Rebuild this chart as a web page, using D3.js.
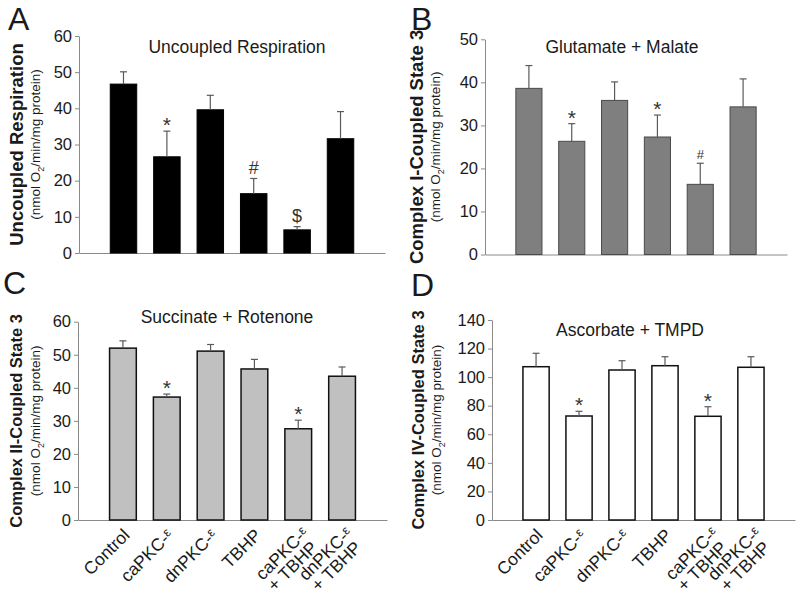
<!DOCTYPE html>
<html>
<head>
<meta charset="utf-8">
<script src="https://cdn.jsdelivr.net/npm/d3@7"></script>
<style>
  body { margin: 0; background: #fff; }
  svg { display: block; font-family: "Liberation Sans", Arial, sans-serif; }
</style>
</head>
<body>
<svg id="chart"></svg>
<script>
// groups, shared by all four panels
const categories = ['Control', 'caPKC-ε', 'dnPKC-ε', 'TBHP', 'caPKC-ε + TBHP', 'dnPKC-ε + TBHP'];

// A: uncoupled respiration
const uncoupledMean = [46.7, 26.6, 39.6, 16.4, 6.4, 31.6];
const uncoupledErr = [3.4, 7.1, 4.0, 4.2, 0.9, 7.5];
const uncoupledMarks = ['', '*', '', '#', '$', ''];
const uncoupledTicks = [0, 10, 20, 30, 40, 50, 60];

// B: glutamate + malate
const complexIMean = [38.6, 26.3, 35.8, 27.3, 16.3, 34.3];
const complexIErr = [5.3, 4.1, 4.3, 5.1, 4.9, 6.5];
const complexIMarks = ['', '*', '', '*', '#', ''];
const complexITicks = [0, 10, 20, 30, 40, 50];

// C: succinate + rotenone
const complexIIMean = [52.0, 37.2, 51.1, 45.7, 27.6, 43.5];
const complexIIErr = [2.2, 0.9, 2.0, 2.9, 2.6, 2.8];
const complexIIMarks = ['', '*', '', '', '*', ''];
const complexIITicks = [0, 10, 20, 30, 40, 50, 60];

// D: ascorbate + TMPD
const complexIVMean = [107.3, 72.8, 105.0, 108.0, 72.6, 106.9];
const complexIVErr = [9.4, 3.3, 6.5, 6.3, 6.7, 7.4];
const complexIVMarks = ['', '*', '', '', '*', ''];
const complexIVTicks = [0, 20, 40, 60, 80, 100, 120, 140];

const svg = d3.select('#chart').attr('width', 800).attr('height', 605);
svg.append('rect').attr('width', 800).attr('height', 605).attr('fill', '#fff');

const textColor = '#1a1a1a';
const axisColor = '#8a8a8a';

const panels = [
  { letter: 'A', lx: 8, ly: 30, title: 'Uncoupled Respiration', tx: 237, ty: 53,
    ylabel: 'Uncoupled Respiration', labX: 23, labSize: 18.5, subX: 40,
    mean: uncoupledMean, err: uncoupledErr, marks: uncoupledMarks, ticks: uncoupledTicks,
    x0: 79, x1: 385, y0: 253, y1: 36, fill: '#000', stroke: '#000', sw: 1, xlabels: false },
  { letter: 'B', lx: 411, ly: 30, title: 'Glutamate + Malate', tx: 622, ty: 53,
    ylabel: 'Complex I-Coupled State 3', labX: 423, labSize: 18.5, subX: 440,
    mean: complexIMean, err: complexIErr, marks: complexIMarks, ticks: complexITicks,
    x0: 485, x1: 787, y0: 254.5, y1: 39.3, fill: '#7f7f7f', stroke: '#4a4a4a', sw: 1, xlabels: false },
  { letter: 'C', lx: 3, ly: 294, title: 'Succinate + Rotenone', tx: 227, ty: 323,
    ylabel: 'Complex II-Coupled State 3', labX: 22, labSize: 16.5, subX: 40,
    mean: complexIIMean, err: complexIIErr, marks: complexIIMarks, ticks: complexIITicks,
    x0: 78, x1: 387, y0: 520, y1: 321.7, fill: '#c0c0c0', stroke: '#111', sw: 1.5, xlabels: true },
  { letter: 'D', lx: 411, ly: 296, title: 'Ascorbate + TMPD', tx: 630, ty: 336,
    ylabel: 'Complex IV-Coupled State 3', labX: 424, labSize: 16.5, subX: 441,
    mean: complexIVMean, err: complexIVErr, marks: complexIVMarks, ticks: complexIVTicks,
    x0: 492, x1: 795, y0: 520, y1: 320, fill: '#fff', stroke: '#111', sw: 1.5, xlabels: true }
];

// size and baseline offset for each significance symbol
const markStyle = { '*': { size: 21, dy: 1 }, '#': { size: 18, dy: -4 }, '$': { size: 18, dy: -5 } };

panels.forEach(p => {
  const g = svg.append('g');

  const x = d3.scaleBand()
    .domain(categories)
    .range([p.x0, p.x1])
    .paddingInner(0.39)
    .paddingOuter(0.72);

  const y = d3.scaleLinear()
    .domain([0, d3.max(p.ticks)])
    .range([p.y0, p.y1]);

  // y axis
  const ya = g.append('g')
    .attr('transform', `translate(${p.x0},0)`)
    .call(d3.axisLeft(y).tickValues(p.ticks).tickSize(4).tickSizeOuter(0).tickPadding(3));
  ya.select('.domain').attr('stroke', axisColor);
  ya.selectAll('.tick line').attr('stroke', axisColor);
  ya.selectAll('.tick text')
    .attr('fill', textColor)
    .style('font-size', '16.5px')
    .style('font-family', '"Liberation Sans", Arial, sans-serif');

  // x axis baseline, no ticks
  const xa = g.append('g')
    .attr('transform', `translate(0,${p.y0})`)
    .call(d3.axisBottom(x).tickSize(0).tickSizeOuter(0).tickFormat(''));
  xa.select('.domain').attr('stroke', axisColor);

  // bars
  g.append('g')
    .selectAll('rect')
    .data(categories)
    .join('rect')
    .attr('x', d => x(d))
    .attr('y', (d, i) => y(p.mean[i]))
    .attr('width', x.bandwidth())
    .attr('height', (d, i) => y(0) - y(p.mean[i]))
    .attr('fill', p.fill)
    .attr('stroke', p.stroke)
    .attr('stroke-width', p.sw);

  // upper error bars
  const eb = g.append('g').attr('stroke', '#5a5a5a').attr('stroke-width', 1.2);
  categories.forEach((c, i) => {
    const cx = x(c) + x.bandwidth() / 2;
    const top = y(p.mean[i] + p.err[i]);
    eb.append('line').attr('x1', cx).attr('x2', cx).attr('y1', y(p.mean[i])).attr('y2', top);
    eb.append('line').attr('x1', cx - 3.5).attr('x2', cx + 3.5).attr('y1', top).attr('y2', top);
  });

  // significance marks
  categories.forEach((c, i) => {
    const m = p.marks[i];
    if (!m) return;
    const st = markStyle[m];
    const size = (p.letter === 'B' && m === '#') ? 13 : st.size;
    g.append('text')
      .attr('x', x(c) + x.bandwidth() / 2)
      .attr('y', y(p.mean[i] + p.err[i]) + st.dy)
      .attr('text-anchor', 'middle')
      .attr('fill', '#333')
      .style('font-size', size + 'px')
      .text(m);
  });

  // panel title
  g.append('text')
    .attr('x', p.tx).attr('y', p.ty)
    .attr('text-anchor', 'middle')
    .attr('fill', textColor)
    .style('font-size', '17.5px')
    .text(p.title);

  // panel letter
  g.append('text')
    .attr('x', p.lx).attr('y', p.ly)
    .attr('fill', textColor)
    .style('font-size', '32px')
    .text(p.letter);

  // y labels
  const midY = (p.y0 + p.y1) / 2;
  g.append('text')
    .attr('transform', `translate(${p.labX},${midY}) rotate(-90)`)
    .attr('text-anchor', 'middle')
    .attr('fill', textColor)
    .style('font-size', p.labSize + 'px')
    .style('font-weight', 'bold')
    .text(p.ylabel);

  const sub = g.append('text')
    .attr('transform', `translate(${p.subX},${midY}) rotate(-90)`)
    .attr('text-anchor', 'middle')
    .attr('fill', textColor)
    .style('font-size', '13.5px');
  sub.append('tspan').text('(nmol O');
  sub.append('tspan').attr('dy', 4).style('font-size', '9px').text('2');
  sub.append('tspan').attr('dy', -4).text('/min/mg protein)');

  // rotated category labels
  if (p.xlabels) {
    categories.forEach(c => {
      const cx = x(c) + x.bandwidth() / 2;
      const lines = c.split(' + ');
      const two = lines.length > 1;
      const t = g.append('text')
        .attr('transform', `translate(${cx},${p.y0}) rotate(-45)`)
        .attr('text-anchor', 'end')
        .attr('fill', textColor)
        .style('font-size', '17.5px');
      lines.forEach((ln, j) => {
        const tsp = t.append('tspan')
          .attr('x', (two ? -2 : -6) - j * 4)
          .attr('y', (two ? 18 : 17) + j * 16.5);
        const txt = j > 0 ? '+ ' + ln : ln;
        if (txt.endsWith('ε')) {
          tsp.append('tspan').text(txt.slice(0, -1));
          tsp.append('tspan').attr('dy', -4).style('font-size', '13px').text('ε');
        } else {
          tsp.text(txt);
        }
      });
    });
  }
});
</script>
</body>
</html>
